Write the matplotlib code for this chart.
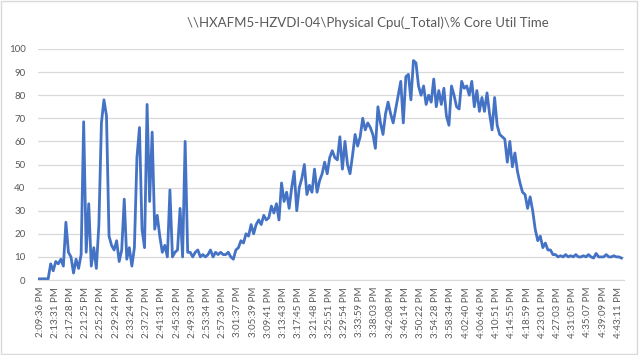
import numpy as np
import matplotlib.pyplot as plt
from matplotlib.patches import Rectangle

# CPU core utilisation (one value every ~2 samples)
cpu_util = [
    0.5, 0.5, 0.5, 0.5, 0.5, 7, 4, 8, 7, 9,
    6, 25, 12, 10, 3, 9, 5, 11, 68.5, 12,
    33, 6, 14, 5, 24, 68, 78, 71, 19, 15,
    13, 17, 8, 13, 35, 9, 14, 6, 14, 53,
    66, 22, 14, 76, 34, 64, 22, 28, 19, 12,
    15, 10, 39, 10, 12, 13, 31, 10, 60, 12,
    12, 10, 12, 13, 10, 11, 10, 11, 13, 10,
    12, 11, 12, 11, 11, 12, 10, 9, 13, 14,
    17, 16, 20, 19, 24, 20, 24, 26, 24, 28,
    26, 27, 32, 29, 33, 26, 42, 34, 38, 31,
    40, 47, 30, 40, 44, 50, 37, 41, 38, 48,
    38, 43, 46, 51, 46, 53, 56, 53, 52, 62,
    48, 60, 50, 46, 54, 63, 58, 62, 70, 65,
    68, 66, 63, 57, 75, 68, 63, 72, 77, 72,
    68, 74, 80, 86, 68, 88, 89, 78, 95, 94,
    84, 80, 84, 76, 80, 77, 87, 75, 82, 76,
    83, 71, 67, 84, 80, 75, 74, 86, 83, 84,
    80, 86, 75, 82, 73, 79, 73, 81, 72, 65,
    79, 67, 63, 62, 61, 51, 60, 49, 55, 47,
    42, 38, 37, 31, 36, 30, 22, 17, 19, 14,
    16, 13, 13, 11, 11, 10, 10.5, 10, 11, 10,
    10.5, 10, 11, 10, 10, 10.5, 10, 11, 10, 9.5,
    11.5, 10, 10, 10, 11, 10, 10, 10.5, 10, 10,
    9.5,
]

time_labels = [
    "2:09:36 PM", "2:13:31 PM", "2:17:28 PM", "2:21:25 PM", "2:25:22 PM",
    "2:29:24 PM", "2:33:24 PM", "2:37:27 PM", "2:41:31 PM", "2:45:32 PM",
    "2:49:33 PM", "2:53:34 PM", "2:57:36 PM", "3:01:37 PM", "3:05:39 PM",
    "3:09:41 PM", "3:13:43 PM", "3:17:45 PM", "3:21:48 PM", "3:25:51 PM",
    "3:29:54 PM", "3:33:59 PM", "3:38:03 PM", "3:42:08 PM", "3:46:14 PM",
    "3:50:22 PM", "3:54:28 PM", "3:58:34 PM", "4:02:40 PM", "4:06:46 PM",
    "4:10:51 PM", "4:14:55 PM", "4:18:59 PM", "4:23:01 PM", "4:27:03 PM",
    "4:31:05 PM", "4:35:07 PM", "4:39:09 PM", "4:43:11 PM",
]
label_step = 6

plt.rcParams['font.family'] = ['Lato', 'DejaVu Sans']

fig = plt.figure(figsize=(6.39, 3.55), dpi=100)
ax = fig.add_axes([38 / 639, 1 - 280 / 355, 586 / 639, 231 / 355])

x = np.arange(len(cpu_util))
ax.plot(x, cpu_util, color="#4472C4", lw=2.0, solid_joinstyle="round")

ax.set_ylim(0, 100)
ax.set_yticks(range(0, 101, 10))
ax.set_xlim(0, len(cpu_util))
ax.set_xticks(np.arange(len(time_labels)) * label_step + 0.8)
ax.set_xticklabels(time_labels, rotation=90)

ax.grid(axis="y", color="#D9D9D9", lw=0.9)
ax.set_axisbelow(True)
for s in ["top", "right", "left"]:
    ax.spines[s].set_visible(False)
ax.spines["bottom"].set_color("#D9D9D9")
ax.tick_params(axis="both", length=0, colors="#595959", labelsize=7)
ax.tick_params(axis="x", pad=5)
ax.tick_params(axis="y", pad=9)

fig.suptitle(r"\\HXAFM5-HZVDI-04\Physical Cpu(_Total)\% Core Util Time",
             x=0.576, y=0.955, fontsize=9.5, color="#595959")

fig.patches.append(Rectangle((0.002, 0.003), 0.995, 0.993, transform=fig.transFigure,
                             fill=False, ec="#D9D9D9", lw=1))

fig.savefig("out.png", dpi=100)
